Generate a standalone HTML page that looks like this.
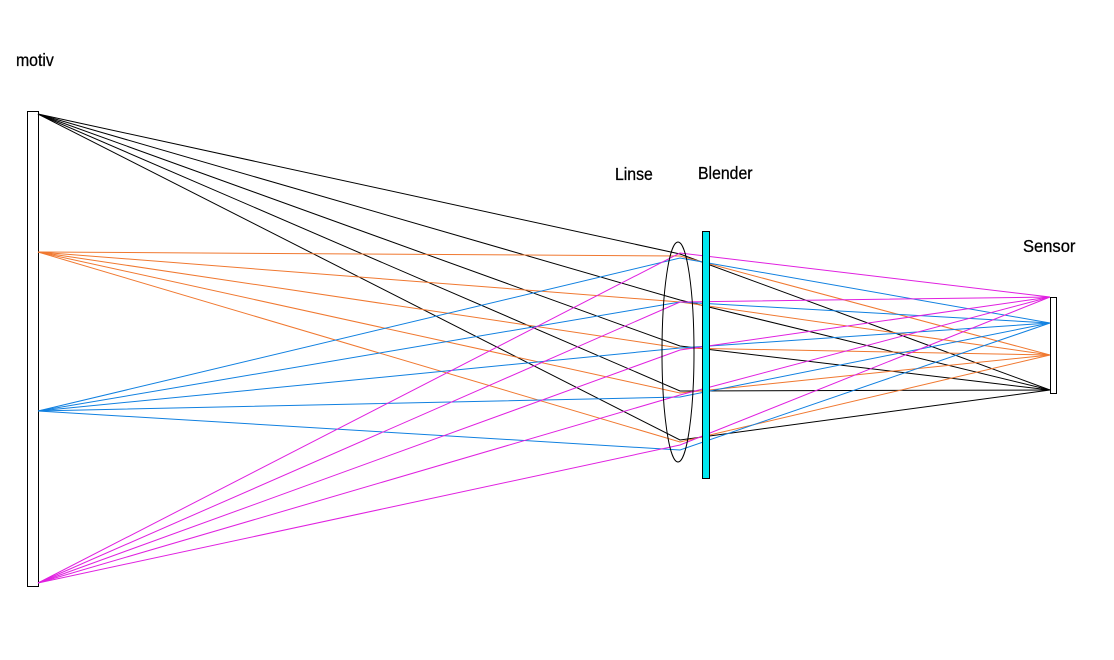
<!DOCTYPE html>
<html><head><meta charset="utf-8"><style>
html,body{margin:0;padding:0;background:#fff;width:1114px;height:660px;overflow:hidden}
svg{display:block}
text{font-family:"Liberation Sans",sans-serif;font-size:18px;fill:#000;stroke:#000;stroke-width:0.3}
</style></head><body>
<svg width="1114" height="660" viewBox="0 0 1114 660" xmlns="http://www.w3.org/2000/svg">
<rect x="27.5" y="111.5" width="11" height="475" fill="#fff" stroke="#000"/>
<g fill="none" stroke-width="1">
<g stroke="#000">
<polyline points="38,114 680,254 1050,390"/>
<polyline points="38,114 680,300 1050,390"/>
<polyline points="38,114 680,346 1050,390"/>
<polyline points="38,114 680,391 1050,390"/>
<polyline points="38,114 680,440 1050,390"/>
</g>
<g stroke="#f07830">
<polyline points="38,252 680,256 1050,355"/>
<polyline points="38,252 680,302 1050,355"/>
<polyline points="38,252 680,348 1050,355"/>
<polyline points="38,252 680,393 1050,355"/>
<polyline points="38,252 680,442 1050,355"/>
</g>
<g stroke="#1080e0">
<polyline points="38,411 680,258 1050,323"/>
<polyline points="38,411 680,302 1050,323"/>
<polyline points="38,411 680,348 1050,323"/>
<polyline points="38,411 680,397 1050,323"/>
<polyline points="38,411 680,450 1050,323"/>
</g>
<g stroke="#e020e0">
<polyline points="38,583 680,253 1050,297"/>
<polyline points="38,583 680,302 1050,297"/>
<polyline points="38,583 680,350 1050,297"/>
<polyline points="38,583 680,395 1050,297"/>
<polyline points="38,583 680,445 1050,297"/>
</g>
</g>
<ellipse cx="678" cy="352" rx="16" ry="110" fill="none" stroke="#000"/>
<rect x="702.5" y="231.5" width="7" height="247" fill="#00e8f0" stroke="#000"/>
<rect x="1050.5" y="297.5" width="6" height="96" fill="#fff" stroke="#000"/>
<text x="16" y="66" transform="translate(16,66) scale(0.88,1) translate(-16,-66)">motiv</text>
<text x="615" y="180" transform="translate(615,180) scale(0.88,1) translate(-615,-180)">Linse</text>
<text x="698" y="179" transform="translate(698,179) scale(0.88,1) translate(-698,-179)">Blender</text>
<text x="1023" y="252" transform="translate(1023,252) scale(0.92,1) translate(-1023,-252)">Sensor</text>
</svg>
</body></html>
